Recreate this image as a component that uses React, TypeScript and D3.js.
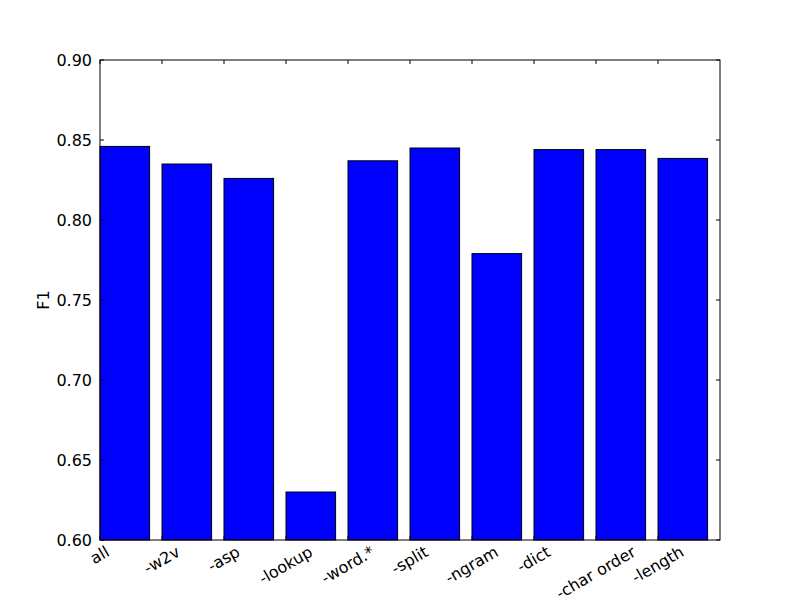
import React from "react";
import { scaleLinear, range } from "d3";

const labels = [
  "all",
  "-w2v",
  "-asp",
  "-lookup",
  "-word.*",
  "-split",
  "-ngram",
  "-dict",
  "-char order",
  "-length"
];
const f1 = [0.846, 0.835, 0.826, 0.63, 0.837, 0.845, 0.779, 0.844, 0.844, 0.8385];
const yTicks = [0.6, 0.65, 0.7, 0.75, 0.8, 0.85, 0.9];

const W = 800;
const H = 600;
const LEFT = 100;
const RIGHT = 720;
const TOP = 60;
const BOTTOM = 540;
const FONT = "DejaVu Sans";
const FS = 16;
const ROT = 30;

// measure label width so the rotated box can be centred on the tick like matplotlib does
const ctx = document.createElement("canvas").getContext("2d")!;
ctx.font = `${FS}px "${FONT}"`;
const textW = (s: string) => ctx.measureText(s).width;

export default function App() {
  const x = scaleLinear().domain([0, labels.length]).range([LEFT, RIGHT]);
  const y = scaleLinear().domain([0.6, 0.9]).range([BOTTOM, TOP]);
  const barW = 0.8;
  const rad = (ROT * Math.PI) / 180;
  const lineH = FS;

  return (
    <svg
      width={W}
      height={H}
      style={{ position: "fixed", top: 0, left: 0, background: "#fff" }}
      fontFamily={FONT}
      fontSize={FS}
    >
      <rect width={W} height={H} fill="#fff" />
      {f1.map((v, i) => (
        <rect
          key={i}
          x={x(i)}
          y={y(v)}
          width={x(i + barW) - x(i)}
          height={y(0.6) - y(v)}
          fill="#0000ff"
          stroke="#000"
          strokeWidth={1}
        />
      ))}

      {/* y ticks, inside on both sides */}
      {yTicks.map(t => (
        <g key={t} transform={`translate(0, ${y(t)})`}>
          <line x1={LEFT} x2={LEFT + 4} stroke="#000" />
          <line x1={RIGHT} x2={RIGHT - 4} stroke="#000" />
          <text x={LEFT - 8} dy="0.35em" textAnchor="end">
            {t.toFixed(2)}
          </text>
        </g>
      ))}

      {/* x ticks at bar left edges, labels centred + rotated */}
      {range(labels.length).map(i => {
        const tx = x(i);
        const w = textW(labels[i]);
        const boxH = w * Math.sin(rad) + lineH * Math.cos(rad);
        const cy = BOTTOM + 4 + boxH / 2;
        return (
          <g key={i}>
            <line x1={tx} x2={tx} y1={TOP} y2={TOP + 4} stroke="#000" />
            <line x1={tx} x2={tx} y1={BOTTOM} y2={BOTTOM - 4} stroke="#000" />
            <text
              transform={`translate(${tx}, ${cy}) rotate(${-ROT})`}
              textAnchor="middle"
              dy="0.3em"
            >
              {labels[i]}
            </text>
          </g>
        );
      })}

      <rect
        x={LEFT}
        y={TOP}
        width={RIGHT - LEFT}
        height={BOTTOM - TOP}
        fill="none"
        stroke="#000"
      />

      <text
        transform={`translate(49, ${(TOP + BOTTOM) / 2}) rotate(-90)`}
        textAnchor="middle"
      >
        F1
      </text>
    </svg>
  );
}
